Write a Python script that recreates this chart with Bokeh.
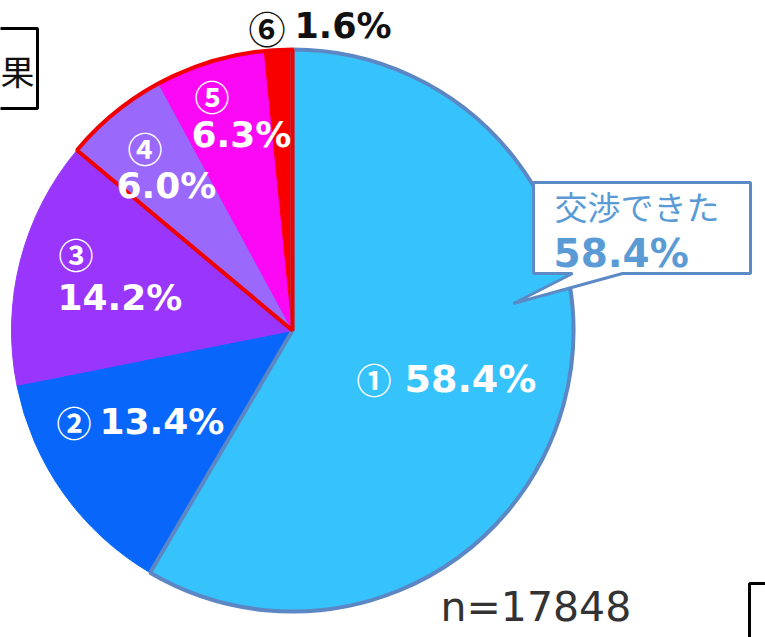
import numpy as np
from bokeh.plotting import figure
from bokeh.models import Range1d, ColumnDataSource
from bokeh.core.properties import value
from bokeh.embed import file_html
from bokeh.resources import INLINE

# ---- data ----
marks = ["①", "②", "③", "④", "⑤", "⑥"]
shares = [58.4, 13.4, 14.2, 6.0, 6.3, 1.6]
colors = ["#36C2FB", "#0867FA", "#9A35FB", "#9A68FB", "#FB08F5", "#F80000"]
callout_title = "交渉できた"
callout_value = "58.4%"
n_text = "n=17848"
corner_text = "果"

# ---- layout constants (image pixel coordinates, y downward) ----
W, H = 765, 637
CX, CY, R = 292, 330, 281

def Y(y):
    return H - y

frac = np.array(shares) / sum(shares)
cum1 = np.cumsum(frac)
cum0 = cum1 - frac
start = np.pi / 2 - 2 * np.pi * cum1
end = np.pi / 2 - 2 * np.pi * cum0

p = figure(width=W, height=H, x_range=Range1d(0, W), y_range=Range1d(0, H),
           x_axis_type=None, y_axis_type=None, toolbar_location=None,
           output_backend="svg", min_border=0, outline_line_color=None,
           background_fill_color="white", border_fill_color="white")
p.grid.visible = False

# slices
src = ColumnDataSource(dict(x=[CX] * 6, y=[Y(CY)] * 6, start=start, end=end,
                            fill=colors, line=colors))
p.wedge(x="x", y="y", radius=R, start_angle="start", end_angle="end",
        fill_color="fill", line_color="line", line_width=1, source=src)

# outline of slice 1
p.wedge(x=CX, y=Y(CY), radius=R, start_angle=start[0], end_angle=end[0],
        fill_color=None, line_color="#5C86C4", line_width=4)

# red outline around slices 4-6
p.wedge(x=CX, y=Y(CY), radius=R, start_angle=start[5], end_angle=end[3],
        fill_color=None, line_color="#F00000", line_width=4)

FONT = value("DejaVu Sans, Noto Sans CJK JP")
CJK = value("Noto Sans CJK JP")

def lbl(x, y, t, size="36px", color="white", bold=True, font=FONT):
    p.text(x=[x], y=[Y(y)], text=[t], text_font=font, text_font_size=size,
           text_font_style="bold" if bold else "normal", text_color=color,
           text_baseline="middle", text_align="left")

def mark(x, y, t, color="white", size="35px"):
    lbl(x, y, t, size=size, color=color, bold=True, font=CJK)

# slice labels
mark(356, 378, marks[0]); lbl(404, 378, f"{shares[0]:.1f}%", size="38px")
mark(56, 421, marks[1]);  lbl(99, 421, f"{shares[1]:.1f}%")
mark(58, 253, marks[2]);  lbl(57, 297, f"{shares[2]:.1f}%")
mark(127, 147, marks[3]); lbl(116, 185, f"{shares[3]:.1f}%")
mark(194, 95, marks[4]);  lbl(191, 134, f"{shares[4]:.1f}%")
mark(248, 27, marks[5], color="#111111", size="37px")
lbl(294, 25, f"{shares[5]:.1f}%", color="#111111", size="35px")

# callout box
bx = [533, 750, 750, 622, 513, 572, 533]
by = [182, 182, 273, 273, 303, 273, 273]
p.patch(x=bx, y=[Y(v) for v in by], fill_color="white",
        line_color="#5B8AC6", line_width=3)
lbl(554, 205, callout_title, size="33px", color="#5B9BD5", bold=False, font=CJK)
lbl(553, 253, callout_value, size="39px", color="#5B9BD5")

# n label
lbl(440, 606, n_text, size="41px", color="#333333", bold=False)

# top-left box (partly outside the picture in the source)
p.line(x=[-10, 37, 37, -10], y=[Y(28), Y(28), Y(108), Y(108)],
       line_color="black", line_width=3)
lbl(0, 70, corner_text, size="34px", color="#111111", bold=False, font=CJK)

# bottom-right bracket
p.line(x=[765, 749, 749], y=[Y(583), Y(583), Y(640)], line_color="black", line_width=3)

open("out.html", "w").write(file_html(p, INLINE))
